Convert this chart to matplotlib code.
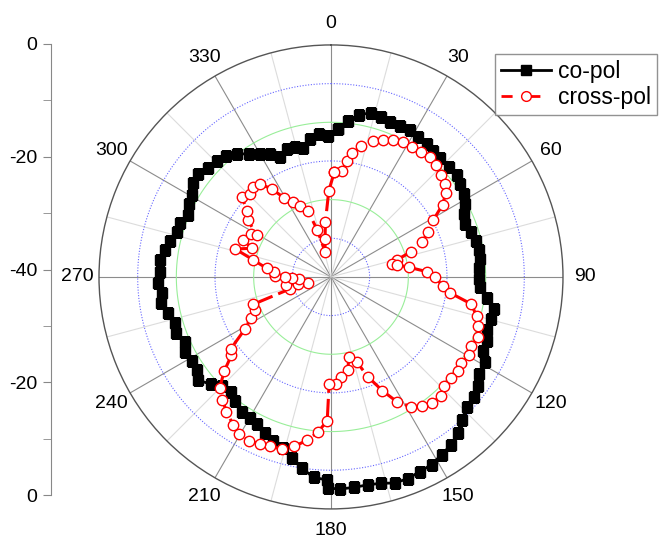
import matplotlib.pyplot as plt
from matplotlib.lines import Line2D
import numpy as np

plt.rcParams['font.family'] = ['Liberation Sans', 'DejaVu Sans']

# co-pol pattern (angle in degrees, level in dB)
co_ang = [2.8, 6.3, 9.9, 13.6, 17.3, 20.9, 24.7, 28.3, 31.9, 35.8,
          39.0, 42.6, 46.8, 50.9, 54.0, 58.1, 61.4, 64.7, 68.2, 72.4,
          75.9, 79.7, 83.2, 86.6, 90.8, 93.7, 97.7, 101.2, 104.8, 108.7,
          112.3, 116.1, 119.1, 123.2, 126.6, 130.2, 133.8, 137.4, 141.0, 144.5,
          148.1, 151.8, 155.4, 159.2, 162.8, 166.4, 170.0, 173.8, 177.6, 180.9,
          181.2, 184.9, 188.6, 192.2, 195.7, 199.4, 202.9, 206.5, 210.0, 213.5,
          217.7, 220.9, 225.1, 228.3, 232.2, 235.3, 239.0, 242.9, 246.1, 250.2,
          253.7, 257.6, 261.2, 264.5, 267.9, 271.8, 275.7, 279.2, 282.7, 286.4,
          289.8, 293.5, 297.3, 300.5, 304.1, 307.8, 311.5, 315.5, 319.0, 322.5,
          326.4, 330.0, 333.5, 336.9, 340.9, 344.6, 347.9, 351.4, 355.3, 358.9]
co_db = [-14.5, -12.9, -11.6, -10.9, -11.2, -11.4, -11.4, -11.2, -11.6, -11.7,
         -12.0, -12.2, -12.2, -12.1, -12.6, -12.9, -13.7, -14.6, -15.2, -14.6,
         -14.3, -14.1, -14.1, -14.5, -14.5, -14.3, -12.8, -11.4, -11.5, -11.6,
         -11.0, -10.8, -9.7, -9.5, -8.5, -7.8, -7.6, -6.6, -5.3, -4.4,
         -3.9, -3.3, -3.1, -2.8, -2.8, -3.4, -3.6, -3.5, -3.4, -3.6,
         -5.0, -5.3, -6.6, -8.0, -9.3, -10.1, -10.7, -11.6, -11.9, -12.1,
         -12.9, -13.8, -13.4, -12.2, -11.0, -11.9, -12.0, -11.7, -12.5, -11.6,
         -12.0, -11.3, -10.3, -10.7, -10.2, -10.5, -10.3, -11.0, -11.6, -12.3,
         -12.3, -13.2, -12.5, -12.1, -11.2, -11.0, -11.7, -11.9, -12.4, -13.3,
         -14.5, -15.5, -16.4, -17.6, -16.7, -16.7, -17.3, -15.9, -15.3, -15.7]

# cross-pol pattern
x_ang = [1.8, 5.8, 7.8, 9.8, 13.1, 17.2, 20.9, 24.5, 28.1, 32.1,
         35.7, 39.5, 43.1, 47.3, 50.8, 53.9, 57.1, 60.9, 65.0, 68.9,
         72.5, 75.5, 78.0, 79.5, 83.0, 86.8, 90.0, 94.4, 97.6, 100.9,
         105.0, 108.5, 112.3, 116.2, 119.5, 123.3, 126.4, 130.2, 133.9, 137.4,
         141.3, 144.9, 148.3, 152.2, 155.7, 159.8, 163.1, 167.3, 169.8, 174.3,
         177.3, 181.0, 181.5, 184.9, 188.4, 192.3, 195.7, 199.8, 203.0, 206.5,
         210.3, 213.4, 217.8, 221.4, 225.1, 228.5, 231.9, 234.4, 238.7, 242.8,
         246.5, 250.6, 253.7, 256.0, 257.6, 259.8, 266.0, 269.0, 269.5, 271.4,
         275.0, 277.7, 282.3, 286.3, 289.9, 292.9, 298.0, 299.5, 304.4, 308.2,
         312.0, 315.7, 319.1, 322.6, 326.0, 329.3, 333.3, 336.7, 340.7, 343.8,
         346.7, 351.0, 354.3, 358.5]
x_db = [-21.9, -21.7, -19.9, -18.4, -16.8, -15.4, -14.7, -14.1, -13.6, -13.6,
        -13.4, -13.1, -13.6, -14.1, -14.7, -15.5, -17.1, -19.8, -21.5, -23.1,
        -25.5, -28.3, -29.3, -28.5, -26.4, -23.5, -22.1, -20.7, -19.3, -15.4,
        -14.0, -13.3, -12.6, -13.1, -12.7, -13.1, -12.8, -12.9, -12.9, -12.0,
        -12.2, -12.8, -13.7, -15.7, -18.5, -21.7, -24.7, -25.9, -23.7, -22.6,
        -21.6, -21.6, -15.2, -13.1, -11.5, -10.1, -9.1, -9.0, -8.7, -8.4,
        -8.7, -9.4, -10.6, -11.7, -12.9, -15.4, -18.2, -18.8, -22.6, -24.4,
        -25.7, -25.8, -32.6, -36.0, -34.1, -32.2, -34.5, -33.2, -32.1, -30.3,
        -30.2, -28.8, -26.3, -22.8, -25.5, -23.6, -24.4, -25.3, -22.6, -21.6,
        -19.3, -19.9, -19.5, -19.8, -21.7, -24.1, -25.6, -26.7, -27.9, -31.6,
        -35.5, -33.4, -30.4, -25.2]

theta_labels = ['0', '30', '60', '90', '120', '150', '180', '210', '240', '270', '300', '330']
side_labels = ['0', '-20', '-40', '-20', '0']

r_min, r_max = -40, 0

fig = plt.figure(figsize=(6.6, 5.39), dpi=100)
ax = fig.add_axes([0.15, 0.0557, 0.703, 0.861], projection='polar')
ax.set_theta_zero_location('N')
ax.set_theta_direction(-1)
ax.set_ylim(r_min, r_max)
ax.grid(False)

# spokes
for a in range(0, 360, 15):
    c = '#8c8c8c' if a % 30 == 0 else '#dcdcdc'
    ax.plot([np.deg2rad(a)] * 2, [r_min, r_max], color=c, lw=0.8, zorder=1)

# rings
full = np.linspace(0, 2 * np.pi, 400)
ring_vals = np.linspace(r_min, r_max, 7)[1:-1]
for i, v in enumerate(ring_vals):
    if i % 2 == 0:
        ax.plot(full, np.full_like(full, v), color='#6666ff', lw=0.8, ls=(0, (1, 1.5)), zorder=1)
    else:
        ax.plot(full, np.full_like(full, v), color='#99ee99', lw=0.8, zorder=1)

co_t = np.deg2rad(co_ang + co_ang[:1])
co_r = co_db + co_db[:1]
x_t = np.deg2rad(x_ang + x_ang[:1])
x_r = x_db + x_db[:1]

ax.plot(co_t, co_r, color='black', lw=2, marker='s', ms=6.5, zorder=3)
ax.plot(x_t, x_r, color='red', lw=2.2, ls=(0, (6, 2)), marker='o', ms=7.5,
        mfc='white', mec='red', mew=1, zorder=4)

ax.set_xticks(np.deg2rad(np.arange(0, 360, 30)))
ax.set_xticklabels(theta_labels, fontsize=14)
ax.tick_params(axis='x', pad=5)
ax.set_yticks([])
ax.spines['polar'].set_color('#555555')
ax.spines['polar'].set_linewidth(1)

# separate radial scale on the left
sax = fig.add_axes([0.0773, 0.0816, 0.001, 0.8368])
for s in ['top', 'right', 'bottom']:
    sax.spines[s].set_visible(False)
sax.spines['left'].set_color('#888888')
sax.set_xticks([])
sax.set_ylim(len(side_labels) - 1, 0)
sax.set_yticks(range(len(side_labels)))
sax.set_yticklabels(side_labels, fontsize=14)
sax.set_yticks(np.arange(0.5, len(side_labels) - 1, 1), minor=True)
sax.tick_params(axis='y', which='both', length=6, color='#888888', pad=4)

# legend entries
h_co = Line2D([], [], color='black', lw=2, marker='s', ms=6.5)
h_x = Line2D([], [], color='red', lw=2, ls=(0, (4, 6)), marker='o', ms=7,
             mfc='white', mec='red', mew=1)
leg = fig.legend([h_co, h_x], ['co-pol', 'cross-pol'], loc='upper right',
                 bbox_to_anchor=(657 / 660, 1 - 54 / 539),
                 fontsize=16.5, frameon=True, fancybox=False, borderaxespad=0,
                 handlelength=2.2, handletextpad=0.3, borderpad=0.25, labelspacing=0.15)
leg.get_frame().set_edgecolor('#777777')
leg.get_frame().set_linewidth(1)

fig.savefig('out.png', dpi=100)
